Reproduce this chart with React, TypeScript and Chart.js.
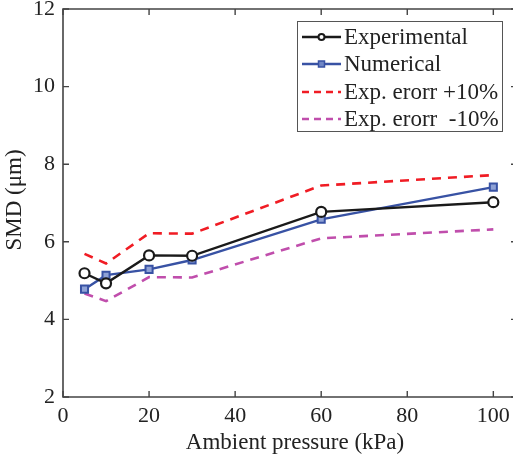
import React, { useEffect, useRef } from "react";
import { Chart, registerables } from "chart.js";

Chart.register(...registerables);

const pressures = [5, 10, 20, 30, 60, 100];
const experimental = [5.19, 4.93, 5.65, 5.64, 6.77, 7.02];
const numerical = [4.78, 5.14, 5.29, 5.53, 6.58, 7.41];
const errPlus = [5.69, 5.44, 6.22, 6.21, 7.45, 7.72];
const errMinus = [4.67, 4.47, 5.09, 5.08, 6.09, 6.32];
const xTicks = [0, 20, 40, 60, 80, 100];
const yTicks = [2, 4, 6, 8, 10, 12];
const legendLabels = ["Experimental", "Numerical", "Exp. erorr +10%", "Exp. erorr  -10%"];
const xTitle = "Ambient pressure (kPa)";
const yTitle = "SMD (μm)";

const FONT = "'Liberation Serif', 'DejaVu Serif', serif";
const AXIS = "#444444";
const TEXT = "#222222";
const BLACK = "#1a1a1a";
const BLUE = "#3852a4";
const RED = "#f01c24";
const MAGENTA = "#c04eac";

const framePlugin = {
  id: "frame",
  afterDraw(chart: any) {
    const { ctx, chartArea, scales } = chart;
    const { left, right, top, bottom } = chartArea;
    ctx.save();
    ctx.strokeStyle = AXIS;
    ctx.lineWidth = 1.6;
    ctx.beginPath();
    ctx.moveTo(right, top);
    ctx.lineTo(left, top);
    ctx.lineTo(left, bottom);
    ctx.lineTo(right, bottom);
    ctx.stroke();
    const tl = 6;
    ctx.lineWidth = 1.4;
    ctx.beginPath();
    for (const v of xTicks) {
      const x = scales.x.getPixelForValue(v);
      ctx.moveTo(x, bottom);
      ctx.lineTo(x, bottom - tl);
      ctx.moveTo(x, top);
      ctx.lineTo(x, top + tl);
    }
    for (const v of yTicks) {
      const y = scales.y.getPixelForValue(v);
      ctx.moveTo(left, y);
      ctx.lineTo(left + tl, y);
      ctx.moveTo(right, y);
      ctx.lineTo(right - tl, y);
    }
    ctx.stroke();

    // axis titles
    ctx.fillStyle = TEXT;
    ctx.textAlign = "center";
    ctx.textBaseline = "middle";
    ctx.font = `23px ${FONT}`;
    ctx.fillText(xTitle, 295, 443);
    ctx.save();
    ctx.translate(15, 200);
    ctx.rotate(-Math.PI / 2);
    ctx.font = `23px ${FONT}`;
    ctx.fillText(yTitle, 0, 0);
    ctx.restore();

    // legend
    const bx = 297, by = 21, bw = 205, bh = 110;
    ctx.fillStyle = "#ffffff";
    ctx.fillRect(bx, by, bw, bh);
    ctx.strokeStyle = "#555555";
    ctx.lineWidth = 1;
    ctx.strokeRect(bx + 0.5, by + 0.5, bw, bh);
    const rows = [37, 64, 92, 119];
    const styles = [
      { color: BLACK, dash: [] as number[], marker: "circle" },
      { color: BLUE, dash: [] as number[], marker: "rect" },
      { color: RED, dash: [7, 5], marker: "" },
      { color: MAGENTA, dash: [7, 5], marker: "" },
    ];
    ctx.font = `23px ${FONT}`;
    ctx.textBaseline = "middle";
    ctx.textAlign = "left";
    rows.forEach((ry, i) => {
      const s = styles[i];
      ctx.strokeStyle = s.color;
      ctx.lineWidth = 2.4;
      ctx.setLineDash(s.dash);
      ctx.beginPath();
      ctx.moveTo(302, ry);
      ctx.lineTo(341, ry);
      ctx.stroke();
      ctx.setLineDash([]);
      if (s.marker === "circle") {
        ctx.fillStyle = "#fff";
        ctx.lineWidth = 2;
        ctx.beginPath();
        ctx.arc(321.5, ry, 3, 0, Math.PI * 2);
        ctx.fill();
        ctx.stroke();
      } else if (s.marker === "rect") {
        ctx.fillStyle = "#6f86c6";
        ctx.lineWidth = 1.5;
        ctx.fillRect(318.5, ry - 3, 6, 6);
        ctx.strokeRect(318.5, ry - 3, 6, 6);
      }
      ctx.fillStyle = TEXT;
      ctx.fillText(legendLabels[i], 344, ry + 1);
    });
    ctx.restore();
  },
};

export default function App() {
  const ref = useRef<HTMLCanvasElement>(null);
  useEffect(() => {
    document.body.style.margin = "0";
    const chart = new Chart(ref.current!, {
      type: "line",
      data: {
        labels: pressures,
        datasets: [
          {
            label: legendLabels[0],
            data: pressures.map((x, i) => ({ x, y: experimental[i] })),
            borderColor: BLACK,
            borderWidth: 2.4,
            pointStyle: "circle",
            pointRadius: 5,
            pointBorderWidth: 2.2,
            pointBackgroundColor: "#ffffff",
            pointBorderColor: BLACK,
          },
          {
            label: legendLabels[1],
            data: pressures.map((x, i) => ({ x, y: numerical[i] })),
            borderColor: BLUE,
            borderWidth: 2.4,
            pointStyle: "rect",
            pointRadius: 5,
            pointBorderWidth: 2,
            pointBackgroundColor: "#8fa2d6",
            pointBorderColor: BLUE,
          },
          {
            label: legendLabels[2],
            data: pressures.map((x, i) => ({ x, y: errPlus[i] })),
            borderColor: RED,
            borderWidth: 2.6,
            borderDash: [9, 7],
            pointRadius: 0,
          },
          {
            label: legendLabels[3],
            data: pressures.map((x, i) => ({ x, y: errMinus[i] })),
            borderColor: MAGENTA,
            borderWidth: 2.6,
            borderDash: [9, 7],
            pointRadius: 0,
          },
        ],
      },
      options: {
        animation: false,
        responsive: false,
        maintainAspectRatio: false,
        layout: { padding: { top: 9, right: 13, left: 0, bottom: 0 } },
        plugins: { legend: { display: false }, tooltip: { enabled: false } },
        elements: { line: { tension: 0 } },
        scales: {
          x: {
            type: "linear",
            min: 0,
            max: 105.5,
            afterBuildTicks: (s: any) => {
              s.ticks = xTicks.map((v) => ({ value: v }));
            },
            afterFit: (s: any) => {
              s.height = 62;
              s.paddingLeft = 0;
              s.paddingRight = 0;
            },
            grid: { display: false, drawTicks: false },
            border: { display: false },
            ticks: {
              padding: 6,
              color: TEXT,
              font: { family: FONT, size: 22 },
              maxRotation: 0,
            },
            title: { display: false, text: xTitle },
          },
          y: {
            type: "linear",
            min: 2,
            max: 12,
            afterBuildTicks: (s: any) => {
              s.ticks = yTicks.map((v) => ({ value: v }));
            },
            afterFit: (s: any) => {
              s.width = 63;
              s.paddingTop = 0;
              s.paddingBottom = 0;
            },
            grid: { display: false, drawTicks: false },
            border: { display: false },
            ticks: {
              padding: 8,
              color: TEXT,
              font: { family: FONT, size: 22 },
            },
            title: { display: false, text: yTitle },
          },
        },
      },
      plugins: [framePlugin],
    });
    return () => chart.destroy();
  }, []);
  return (
    <div style={{ width: 513, height: 459, overflow: "hidden" }}>
      <canvas ref={ref} width={530} height={459} style={{ display: "block" }} />
    </div>
  );
}
